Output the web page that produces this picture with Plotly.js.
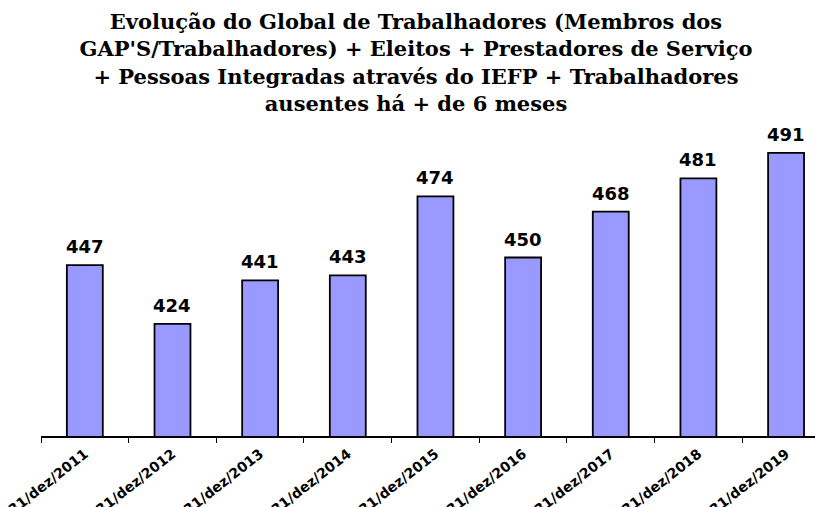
<!DOCTYPE html>
<html><head><meta charset="utf-8">
<script src="https://cdn.plot.ly/plotly-3.0.1.min.js"></script>
<style>html,body{margin:0;padding:0;background:#fff;}#chart{width:815px;height:507px;}</style>
</head><body><div id="chart"></div>
<script>
const categories = ["31/dez/2011","31/dez/2012","31/dez/2013","31/dez/2014","31/dez/2015","31/dez/2016","31/dez/2017","31/dez/2018","31/dez/2019"];
const values = [447, 424, 441, 443, 474, 450, 468, 481, 491];
const titleLines = [
  "Evolução do Global de Trabalhadores (Membros dos",
  "GAP'S/Trabalhadores) + Eleitos + Prestadores de Serviço",
  "+ Pessoas Integradas através do IEFP + Trabalhadores",
  "ausentes há + de 6 meses"
];

const trace = {
  type: 'bar',
  x: categories,
  y: values,
  marker: {color: '#9999FF', line: {color: '#000000', width: 1.8}},
  hoverinfo: 'none'
};

const annotations = categories.map((c, i) => ({
  x: c, y: values[i], xref: 'x', yref: 'y',
  text: String(values[i]), showarrow: false,
  yanchor: 'bottom', yshift: 6,
  font: {family: 'DejaVu Sans, sans-serif', size: 18, color: '#000', weight: 'bold'}
}));

const layout = {
  width: 815, height: 507,
  margin: {l: 41, r: 0, t: 130, b: 71},
  paper_bgcolor: '#fff', plot_bgcolor: '#fff',
  showlegend: false,
  bargap: 0.59,
  title: {
    text: titleLines.join('<br>'),
    font: {family: 'DejaVu Serif, serif', size: 21, color: '#000', weight: 'bold'},
    xref: 'container', x: 416/815, xanchor: 'center',
    yref: 'container', y: 1 - 29/507, yanchor: 'top'
  },
  xaxis: {
    type: 'category',
    range: [-0.5, 8.33],
    tickson: 'boundaries',
    ticks: 'outside', ticklen: 5, tickcolor: '#000', tickwidth: 1,
    showline: true, linecolor: '#000', linewidth: 1.5,
    showgrid: false, zeroline: false,
    tickangle: -38,
    ticklabelstandoff: 3,
    tickfont: {family: 'DejaVu Sans, sans-serif', size: 14, color: '#000', weight: 'bold'}
  },
  yaxis: {
    range: [380, 500],
    visible: false, showgrid: false, zeroline: false
  },
  annotations: annotations
};

Plotly.newPlot('chart', [trace], layout, {displayModeBar: false, staticPlot: true});
</script></body></html>
